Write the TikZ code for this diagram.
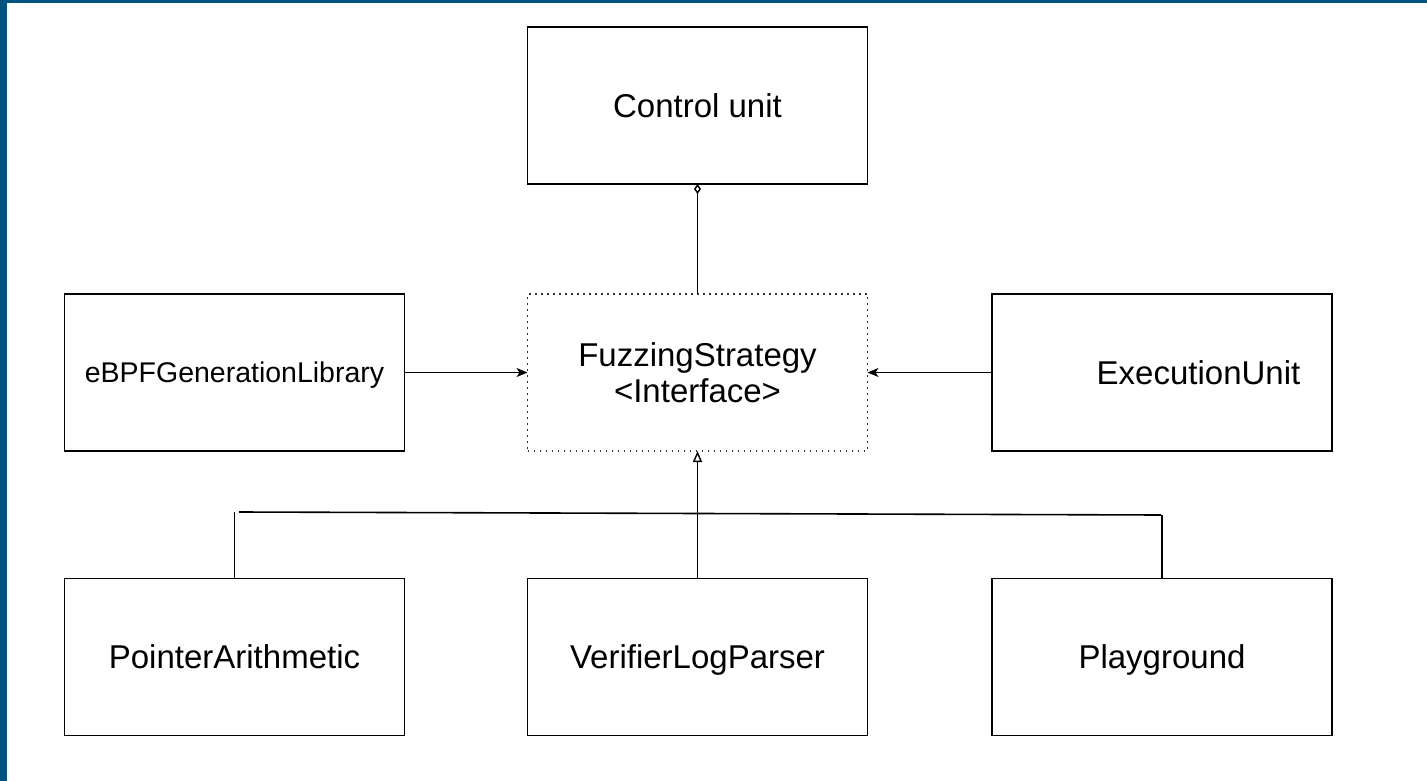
\documentclass[tikz,border=0pt]{standalone}
\usepackage{fontspec}
\setmainfont{Liberation Sans}
\usetikzlibrary{arrows.meta}
\definecolor{frameblue}{RGB}{4,82,128}
\begin{document}
\begin{tikzpicture}[x=1pt,y=-1pt,
  box/.style={draw=black, line width=1.6pt, minimum width=340pt, minimum height=157pt,
    inner sep=0pt, outer sep=0pt, align=center, text depth=0pt,
    font=\fontsize{33}{36.5}\selectfont},
  dotbox/.style={box, draw=black!80, dash pattern=on 1.6pt off 4.4pt},
  smalltext/.style={font=\fontsize{28.5}{32}\selectfont},
  lbl/.style={inner sep=0pt, text depth=0pt, font=\fontsize{33}{36.5}\selectfont},
  conn/.style={line width=1.6pt, draw=black},
  tipA/.style={-{Stealth[length=11pt,width=9pt,inset=3pt]}},
  tipAgg/.style={{Diamond[open,length=10pt,width=7pt,line width=1.4pt]}-},
  tipInh/.style={-{Triangle[open,length=11pt,width=9pt,line width=1.4pt]}}
]
\fill[frameblue] (0,0) rectangle (1427,781);
\fill[white] (7,3) rectangle (1427,781);
\useasboundingbox (0,0) rectangle (1427,781);

\node[box] (control) at (697.5,105.5) {Control unit};
\node[box, smalltext] (ebpf) at (234.5,372.5) {eBPFGenerationLibrary};
\node[dotbox] (fuzz) at (697.5,372.5) {FuzzingStrategy\\\textless Interface\textgreater};
\node[box] (exec) at (1162,372.5) {};
\node[lbl] (execlabel) at (1198.5,372.5) {ExecutionUnit};
\node[box] (pointer) at (234.5,657) {PointerArithmetic};
\node[box] (verifier) at (697.5,657) {VerifierLogParser};
\node[box] (play) at (1162,657) {Playground};

\draw[conn, tipAgg] (control.south) -- (fuzz.north);
\draw[conn, tipA] (ebpf.east) -- (fuzz.west);
\draw[conn, tipA] (exec.west) -- (fuzz.east);
\draw[conn, tipInh] (verifier.north) -- (fuzz.south);

\coordinate (tl) at (239,512);
\coordinate (tr) at (1161,515);
\draw[conn] (tl) -- (tr);
\draw[conn] (pointer.north) -- (pointer.north |- tl);
\draw[conn] (play.north) -- (play.north |- tr);
\end{tikzpicture}
\end{document}
